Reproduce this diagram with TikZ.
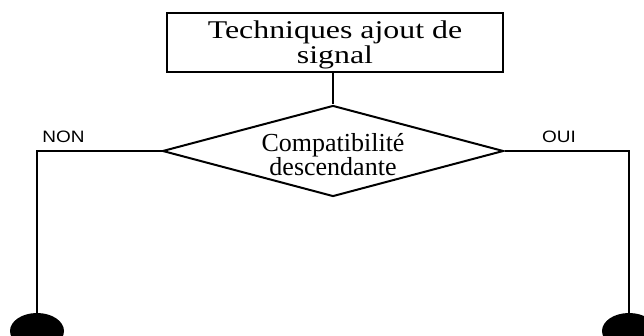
\documentclass[tikz,border=0pt]{standalone}
\usepackage{fontspec}
\setmainfont{Liberation Serif}
\newfontfamily\boxfont[FakeStretch=1.25]{Liberation Serif}
\newfontfamily\labfont[FakeStretch=1.15]{Liberation Sans}
\usetikzlibrary{shapes.geometric}
\tikzset{
  titlebox/.style={draw, line width=2pt, rectangle, minimum width=336pt, minimum height=59pt, inner sep=0pt, align=center, font=\boxfont\fontsize{25.5}{25}\selectfont},
  decision/.style={draw, line width=2pt, diamond, aspect=3.75, minimum width=341pt, minimum height=91pt, inner sep=0pt, align=center, font=\fontsize{26}{23.5}\selectfont},
  endpoint/.style={ellipse, fill=black, draw=none, minimum width=54pt, minimum height=36pt, inner sep=0pt},
  connector/.style={line width=1.5pt},
  branchlabel/.style={font=\labfont\fontsize{16.5}{18}\selectfont, anchor=base, inner sep=0pt}
}
\begin{document}
\begin{tikzpicture}[x=1pt,y=-1pt]
  \useasboundingbox (0,0) rectangle (644,336);
  \clip (0,0) rectangle (644,336);
  \node[titlebox] (title) at (335,42.5) {\rule{0pt}{23pt}Techniques ajout de\\signal};
  \node[decision] (dec) at (333,151) {\rule{0pt}{25pt}Compatibilité\\descendante};
  \node[endpoint] (left) at (37,331) {};
  \node[endpoint] (right) at (629,331) {};
  \draw[connector] (title.south -| dec.north) -- (dec.north);
  \draw[connector] (dec.west) -| (left.north);
  \draw[connector] (dec.east) -| (right.north);
  \node[branchlabel] (non) at (63.5,143) {NON};
  \node[branchlabel] (oui) at (559,143) {OUI};
\end{tikzpicture}
\end{document}
